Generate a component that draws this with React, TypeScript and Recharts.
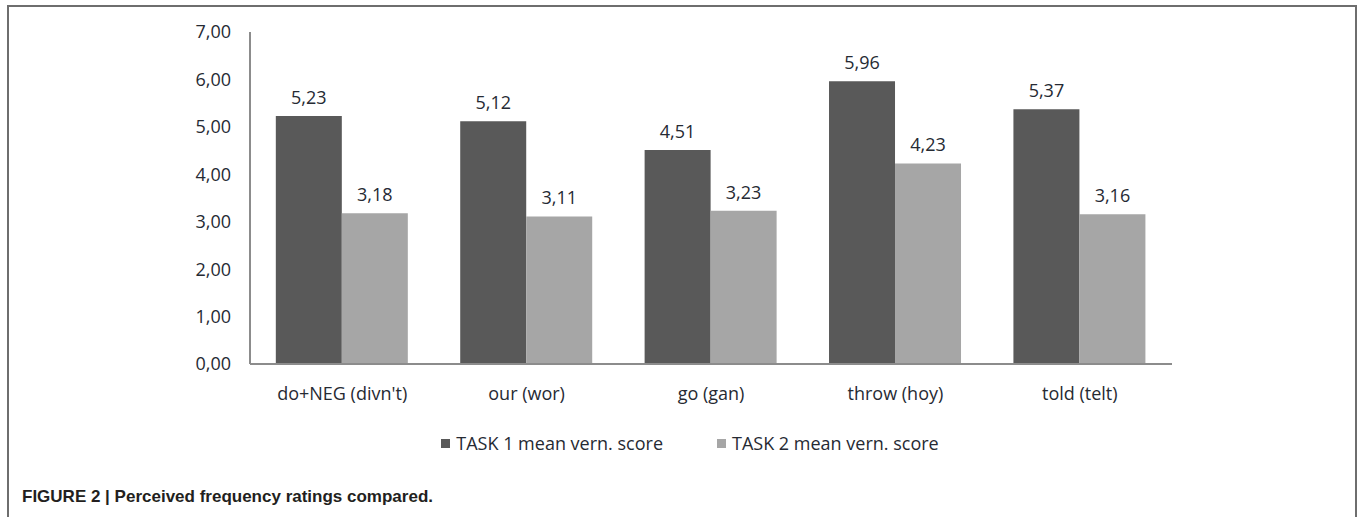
import React from "react"
import { BarChart, Bar, XAxis, YAxis, Legend, LabelList } from "recharts"

const categories = ["do+NEG (divn't)", "our (wor)", "go (gan)", "throw (hoy)", "told (telt)"]
const task1Scores = [5.23, 5.12, 4.51, 5.96, 5.37]
const task2Scores = [3.18, 3.11, 3.23, 4.23, 3.16]
const yTicks = [0, 1, 2, 3, 4, 5, 6, 7]

const data = categories.map((name, i) => ({
  name,
  task1: task1Scores[i],
  task2: task2Scores[i],
}))

const DARK = "#595959"
const LIGHT = "#a6a6a6"
const TEXT = "#262a33"
const FONT = "'Open Sans', sans-serif"

const comma = (v: any) => Number(v).toFixed(2).replace(".", ",")

function LegendBox({ payload }: any) {
  return (
    <div
      style={{
        height: 24,
        display: "flex",
        justifyContent: "center",
        alignItems: "center",
        paddingLeft: 20,
        fontFamily: FONT,
        fontSize: 18,
        color: TEXT,
        gap: 54,
      }}
    >
      {(payload || []).map((p: any) => (
        <div key={p.value} style={{ display: "flex", alignItems: "center" }}>
          <span style={{ width: 9, height: 9, background: p.color, marginRight: 6 }} />
          <span>{p.value}</span>
        </div>
      ))}
    </div>
  )
}

export default function App() {
  return (
    <div style={{ position: "absolute", left: 0, top: 0, width: 1360, height: 517, overflow: "hidden", background: "#fff" }}>
      {/* frame, open at the bottom */}
      <div
        style={{
          position: "absolute",
          left: 7,
          top: 5,
          width: 1346,
          height: 530,
          borderTop: "2px solid #6e6e6e",
          borderLeft: "2px solid #6e6e6e",
          borderRight: "2px solid #6e6e6e",
        }}
      />
      <div style={{ position: "absolute", left: 0, top: 0 }}>
        <BarChart
          width={1360}
          height={470}
          data={data}
          margin={{ top: 32, right: 188, left: 190, bottom: 15 }}
          barGap={0}
          barCategoryGap="14%"
        >
          <XAxis
            dataKey="name"
            height={67}
            axisLine={{ stroke: "#8c8c8c", strokeWidth: 2 }}
            tickLine={false}
            tickSize={0}
            tickMargin={23}
            tick={{ fill: TEXT, fontSize: 18, fontFamily: FONT }}
          />
          <YAxis
            domain={[0, 7]}
            ticks={yTicks}
            width={60}
            axisLine={{ stroke: "#8c8c8c", strokeWidth: 2 }}
            tickLine={false}
            tickSize={0}
            tickMargin={19}
            tickFormatter={comma}
            tick={{ fill: TEXT, fontSize: 18, fontFamily: FONT }}
          />
          <Legend
            verticalAlign="bottom"
            content={<LegendBox />}
            wrapperStyle={{ left: 0, width: 1360 }}
          />
          <Bar dataKey="task1" name="TASK 1 mean vern. score" fill={DARK} isAnimationActive={false}>
            <LabelList
              dataKey="task1"
              position="top"
              offset={12}
              formatter={comma}
              style={{ fill: TEXT, fontSize: 18, fontFamily: FONT }}
            />
          </Bar>
          <Bar dataKey="task2" name="TASK 2 mean vern. score" fill={LIGHT} isAnimationActive={false}>
            <LabelList
              dataKey="task2"
              position="top"
              offset={12}
              formatter={comma}
              style={{ fill: TEXT, fontSize: 18, fontFamily: FONT }}
            />
          </Bar>
        </BarChart>
      </div>
      <div
        style={{
          position: "absolute",
          left: 22,
          top: 487,
          fontFamily: "'Liberation Sans', Arial, sans-serif",
          fontWeight: "bold",
          fontSize: 17,
          color: "#231f20",
          whiteSpace: "nowrap",
        }}
      >
        FIGURE 2 | Perceived frequency ratings compared.
      </div>
    </div>
  )
}
